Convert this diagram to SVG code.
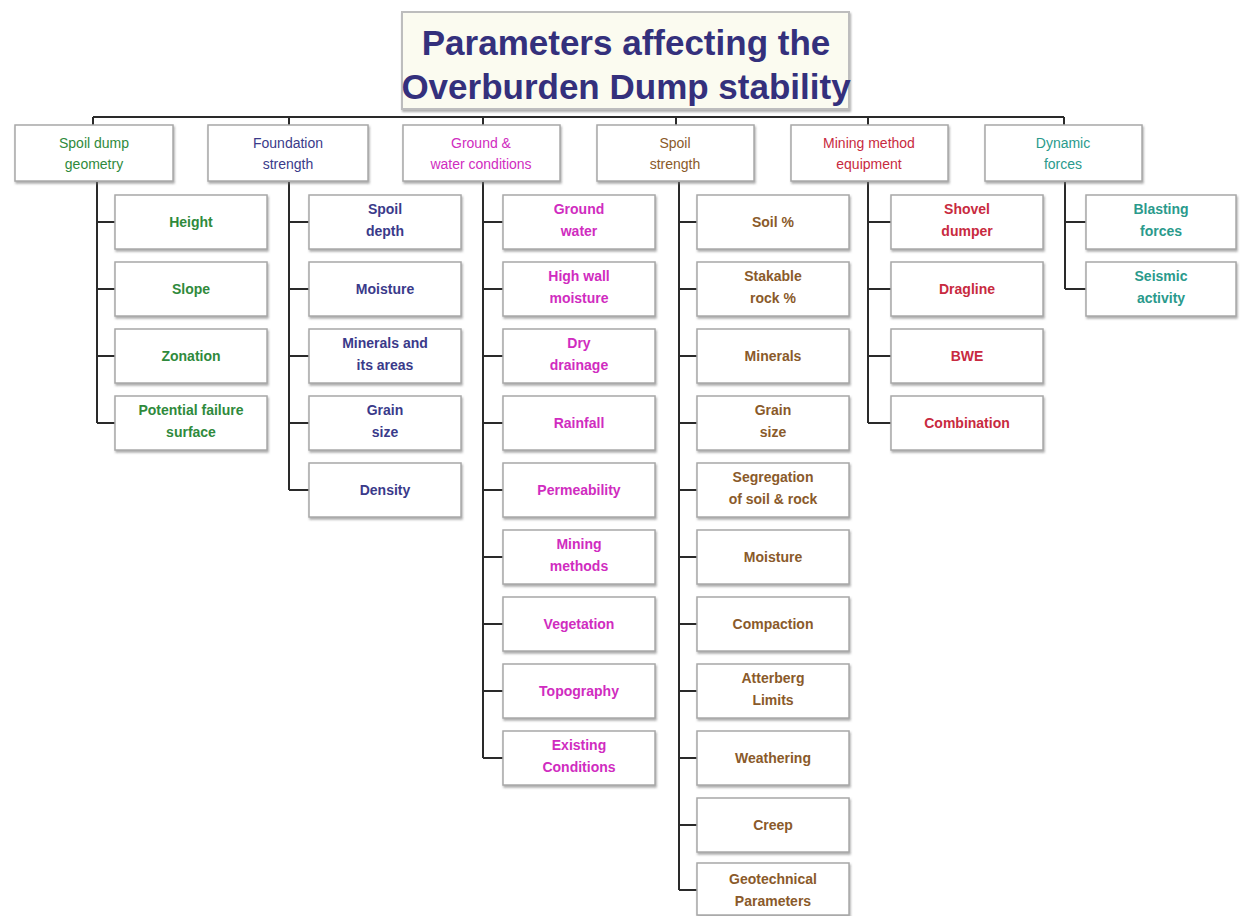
<svg xmlns="http://www.w3.org/2000/svg" width="1244" height="916" viewBox="0 0 1244 916">
<style>
.box{fill:#fff;stroke:#a8a8a8;stroke-width:1.5}
.t{font-family:"Liberation Sans",Arial,sans-serif;font-size:14px;font-weight:bold;text-anchor:middle}
.h{font-family:"Liberation Sans",Arial,sans-serif;font-size:14px;text-anchor:middle}
.ln{stroke:#2a2a2a;stroke-width:2;fill:none}
.c1{fill:#2f8a3c}.c2{fill:#3a3a8a}.c3{fill:#d02cc0}.c4{fill:#8a5a2a}.c5{fill:#c82a40}.c6{fill:#2a9a8c}
</style>
<defs>
<filter id="ds" x="-5%" y="-5%" width="110%" height="115%"><feDropShadow dx="1" dy="2" stdDeviation="0.8" flood-color="#777" flood-opacity="0.6"/></filter>
</defs>
<rect width="1244" height="916" fill="#fff"/>
<g id="title">
<rect x="402" y="12" width="447" height="97" fill="#fbfbf0" stroke="#bdbdbd" stroke-width="2" filter="url(#ds)"/>
<text x="626" y="55" font-family="'Liberation Sans',Arial,sans-serif" font-size="35" font-weight="bold" fill="#34307c" text-anchor="middle">Parameters affecting the</text>
<text x="626" y="99" font-family="'Liberation Sans',Arial,sans-serif" font-size="35" font-weight="bold" fill="#34307c" text-anchor="middle">Overburden Dump stability</text>
</g>
<g id="connectors">
<path class="ln" d="M93 117H1064"/>
<path class="ln" d="M93 117V125M289 117V125M483 117V125M676 117V125M868 117V125M1064 117V125"/>
<path class="ln" d="M97 182V423M97 222H115M97 289H115M97 356H115M97 423H115"/>
<path class="ln" d="M289 182V490M289 222H309M289 289H309M289 356H309M289 423H309M289 490H309"/>
<path class="ln" d="M483 182V758M483 222H503M483 289H503M483 356H503M483 423H503M483 490H503M483 557H503M483 624H503M483 691H503M483 758H503"/>
<path class="ln" d="M679 182V890M679 222H697M679 289H697M679 356H697M679 423H697M679 490H697M679 557H697M679 624H697M679 691H697M679 758H697M679 825H697M679 890H697"/>
<path class="ln" d="M868 182V423M868 222H891M868 289H891M868 356H891M868 423H891"/>
<path class="ln" d="M1065 182V289M1065 222H1086M1065 289H1086"/>
</g>
<g id="h1"><rect class="box" x="15" y="125" width="158" height="56" filter="url(#ds)"/><text class="h c1" x="94" y="148">Spoil dump</text><text class="h c1" x="94" y="169">geometry</text></g>
<g id="h2"><rect class="box" x="208" y="125" width="160" height="56" filter="url(#ds)"/><text class="h c2" x="288" y="148">Foundation</text><text class="h c2" x="288" y="169">strength</text></g>
<g id="h3"><rect class="box" x="403" y="125" width="157" height="56" filter="url(#ds)"/><text class="h c3" x="481" y="148">Ground &amp;</text><text class="h c3" x="481" y="169">water conditions</text></g>
<g id="h4"><rect class="box" x="597" y="125" width="157" height="56" filter="url(#ds)"/><text class="h c4" x="675" y="148">Spoil</text><text class="h c4" x="675" y="169">strength</text></g>
<g id="h5"><rect class="box" x="791" y="125" width="157" height="56" filter="url(#ds)"/><text class="h c5" x="869" y="148">Mining method</text><text class="h c5" x="869" y="169">equipment</text></g>
<g id="h6"><rect class="box" x="985" y="125" width="157" height="56" filter="url(#ds)"/><text class="h c6" x="1063" y="148">Dynamic</text><text class="h c6" x="1063" y="169">forces</text></g>

<g id="n1a"><rect class="box" x="115" y="195" width="152" height="54" filter="url(#ds)"/><text class="t c1" x="191" y="227">Height</text></g>
<g id="n1b"><rect class="box" x="115" y="262" width="152" height="54" filter="url(#ds)"/><text class="t c1" x="191" y="294">Slope</text></g>
<g id="n1c"><rect class="box" x="115" y="329" width="152" height="54" filter="url(#ds)"/><text class="t c1" x="191" y="361">Zonation</text></g>
<g id="n1d"><rect class="box" x="115" y="396" width="152" height="54" filter="url(#ds)"/><text class="t c1" x="191" y="415">Potential failure</text><text class="t c1" x="191" y="437">surface</text></g>

<g id="n2a"><rect class="box" x="309" y="195" width="152" height="54" filter="url(#ds)"/><text class="t c2" x="385" y="214">Spoil</text><text class="t c2" x="385" y="236">depth</text></g>
<g id="n2b"><rect class="box" x="309" y="262" width="152" height="54" filter="url(#ds)"/><text class="t c2" x="385" y="294">Moisture</text></g>
<g id="n2c"><rect class="box" x="309" y="329" width="152" height="54" filter="url(#ds)"/><text class="t c2" x="385" y="348">Minerals and</text><text class="t c2" x="385" y="370">its areas</text></g>
<g id="n2d"><rect class="box" x="309" y="396" width="152" height="54" filter="url(#ds)"/><text class="t c2" x="385" y="415">Grain</text><text class="t c2" x="385" y="437">size</text></g>
<g id="n2e"><rect class="box" x="309" y="463" width="152" height="54" filter="url(#ds)"/><text class="t c2" x="385" y="495">Density</text></g>

<g id="n3a"><rect class="box" x="503" y="195" width="152" height="54" filter="url(#ds)"/><text class="t c3" x="579" y="214">Ground</text><text class="t c3" x="579" y="236">water</text></g>
<g id="n3b"><rect class="box" x="503" y="262" width="152" height="54" filter="url(#ds)"/><text class="t c3" x="579" y="281">High wall</text><text class="t c3" x="579" y="303">moisture</text></g>
<g id="n3c"><rect class="box" x="503" y="329" width="152" height="54" filter="url(#ds)"/><text class="t c3" x="579" y="348">Dry</text><text class="t c3" x="579" y="370">drainage</text></g>
<g id="n3d"><rect class="box" x="503" y="396" width="152" height="54" filter="url(#ds)"/><text class="t c3" x="579" y="428">Rainfall</text></g>
<g id="n3e"><rect class="box" x="503" y="463" width="152" height="54" filter="url(#ds)"/><text class="t c3" x="579" y="495">Permeability</text></g>
<g id="n3f"><rect class="box" x="503" y="530" width="152" height="54" filter="url(#ds)"/><text class="t c3" x="579" y="549">Mining</text><text class="t c3" x="579" y="571">methods</text></g>
<g id="n3g"><rect class="box" x="503" y="597" width="152" height="54" filter="url(#ds)"/><text class="t c3" x="579" y="629">Vegetation</text></g>
<g id="n3h"><rect class="box" x="503" y="664" width="152" height="54" filter="url(#ds)"/><text class="t c3" x="579" y="696">Topography</text></g>
<g id="n3i"><rect class="box" x="503" y="731" width="152" height="54" filter="url(#ds)"/><text class="t c3" x="579" y="750">Existing</text><text class="t c3" x="579" y="772">Conditions</text></g>

<g id="n4a"><rect class="box" x="697" y="195" width="152" height="54" filter="url(#ds)"/><text class="t c4" x="773" y="227">Soil %</text></g>
<g id="n4b"><rect class="box" x="697" y="262" width="152" height="54" filter="url(#ds)"/><text class="t c4" x="773" y="281">Stakable</text><text class="t c4" x="773" y="303">rock %</text></g>
<g id="n4c"><rect class="box" x="697" y="329" width="152" height="54" filter="url(#ds)"/><text class="t c4" x="773" y="361">Minerals</text></g>
<g id="n4d"><rect class="box" x="697" y="396" width="152" height="54" filter="url(#ds)"/><text class="t c4" x="773" y="415">Grain</text><text class="t c4" x="773" y="437">size</text></g>
<g id="n4e"><rect class="box" x="697" y="463" width="152" height="54" filter="url(#ds)"/><text class="t c4" x="773" y="482">Segregation</text><text class="t c4" x="773" y="504">of soil &amp; rock</text></g>
<g id="n4f"><rect class="box" x="697" y="530" width="152" height="54" filter="url(#ds)"/><text class="t c4" x="773" y="562">Moisture</text></g>
<g id="n4g"><rect class="box" x="697" y="597" width="152" height="54" filter="url(#ds)"/><text class="t c4" x="773" y="629">Compaction</text></g>
<g id="n4h"><rect class="box" x="697" y="664" width="152" height="54" filter="url(#ds)"/><text class="t c4" x="773" y="683">Atterberg</text><text class="t c4" x="773" y="705">Limits</text></g>
<g id="n4i"><rect class="box" x="697" y="731" width="152" height="54" filter="url(#ds)"/><text class="t c4" x="773" y="763">Weathering</text></g>
<g id="n4j"><rect class="box" x="697" y="798" width="152" height="54" filter="url(#ds)"/><text class="t c4" x="773" y="830">Creep</text></g>
<g id="n4k"><rect class="box" x="697" y="863" width="152" height="52" filter="url(#ds)"/><text class="t c4" x="773" y="884">Geotechnical</text><text class="t c4" x="773" y="906">Parameters</text></g>

<g id="n5a"><rect class="box" x="891" y="195" width="152" height="54" filter="url(#ds)"/><text class="t c5" x="967" y="214">Shovel</text><text class="t c5" x="967" y="236">dumper</text></g>
<g id="n5b"><rect class="box" x="891" y="262" width="152" height="54" filter="url(#ds)"/><text class="t c5" x="967" y="294">Dragline</text></g>
<g id="n5c"><rect class="box" x="891" y="329" width="152" height="54" filter="url(#ds)"/><text class="t c5" x="967" y="361">BWE</text></g>
<g id="n5d"><rect class="box" x="891" y="396" width="152" height="54" filter="url(#ds)"/><text class="t c5" x="967" y="428">Combination</text></g>

<g id="n6a"><rect class="box" x="1086" y="195" width="150" height="54" filter="url(#ds)"/><text class="t c6" x="1161" y="214">Blasting</text><text class="t c6" x="1161" y="236">forces</text></g>
<g id="n6b"><rect class="box" x="1086" y="262" width="150" height="54" filter="url(#ds)"/><text class="t c6" x="1161" y="281">Seismic</text><text class="t c6" x="1161" y="303">activity</text></g>
</svg>
